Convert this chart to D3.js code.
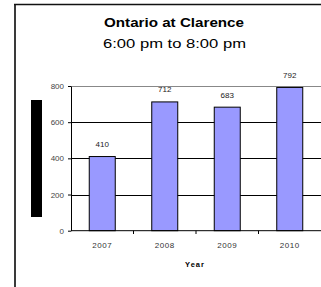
<!DOCTYPE html>
<html>
<head>
<meta charset="utf-8">
<script src="https://cdn.jsdelivr.net/npm/d3@7"></script>
<style>
  body { margin:0; background:#fff; }
  svg { display:block; font-family:"Liberation Sans", Arial, sans-serif; }
</style>
</head>
<body>
<svg id="chart" width="321" height="287"></svg>
<script>
const years = ['2007','2008','2009','2010'];
const counts = [410, 712, 683, 792];
const yTicks = [0, 200, 400, 600, 800];
const title = 'Ontario at Clarence';
const subtitle = '6:00 pm to 8:00 pm';
const xTitle = 'Year';

const svg = d3.select('#chart');

// outer chart frame (runs off the right / bottom edge)
svg.append('line').attr('x1',15).attr('x2',15).attr('y1',4).attr('y2',287)
    .attr('stroke','#3a3a3a').attr('stroke-width',2);
svg.append('line').attr('x1',14).attr('x2',321).attr('y1',4.5).attr('y2',4.5)
    .attr('stroke','#111').attr('stroke-width',1.5);

svg.append('text').attr('x',174).attr('y',27).attr('text-anchor','middle')
    .attr('font-size',12).attr('font-weight','bold')
    .attr('textLength',140).attr('lengthAdjust','spacingAndGlyphs')
    .text(title);
svg.append('text').attr('x',174.5).attr('y',47.5).attr('text-anchor','middle')
    .attr('font-size',13)
    .attr('textLength',143).attr('lengthAdjust','spacingAndGlyphs')
    .text(subtitle);

const x = d3.scaleBand().domain(years).range([71, 321])
    .paddingInner(0.584).paddingOuter(0.292);
const y = d3.scaleLinear().domain([0, 800]).range([230.7, 86]);

// gridlines
svg.append('g').selectAll('line').data(yTicks.filter(d => d > 0)).join('line')
    .attr('x1',71).attr('x2',321)
    .attr('y1',d => Math.round(y(d)) + 0.5).attr('y2',d => Math.round(y(d)) + 0.5)
    .attr('stroke',d => d === 800 ? '#888' : '#000').attr('stroke-width',1);

// bars
svg.append('g').selectAll('rect').data(counts).join('rect')
    .attr('x',(d,i) => x(years[i]))
    .attr('y',d => y(d))
    .attr('width',x.bandwidth())
    .attr('height',d => y(0) - y(d))
    .attr('fill','#9999ff').attr('stroke','#000').attr('stroke-width',1);

// value labels
svg.append('g').selectAll('text').data(counts).join('text')
    .attr('x',(d,i) => x(years[i]) + x.bandwidth()/2)
    .attr('y',d => y(d) - 9.5)
    .attr('text-anchor','middle').attr('font-size',8).attr('fill','#222')
    .text(d => d);

// y axis
const yAxis = svg.append('g').attr('transform','translate(71,0)')
    .call(d3.axisLeft(y).tickValues(yTicks).tickSize(3).tickPadding(4).tickSizeOuter(0));
yAxis.select('.domain').attr('stroke','#000');
yAxis.selectAll('text').attr('font-size',8).attr('fill','#444')
    .attr('font-family','"Liberation Sans", Arial, sans-serif');

// x axis: ticks at category boundaries
const bounds = years.slice(1).map(d => x(d) - x.step()*x.paddingInner()/2);
svg.append('line').attr('x1',71).attr('x2',321).attr('y1',230.7).attr('y2',230.7)
    .attr('stroke','#000');
svg.append('g').selectAll('line').data(bounds).join('line')
    .attr('x1',d => d).attr('x2',d => d).attr('y1',230.7).attr('y2',234)
    .attr('stroke','#000');
svg.append('g').selectAll('text').data(years).join('text')
    .attr('x',d => x(d) + x.bandwidth()/2).attr('y',247.5)
    .attr('text-anchor','middle').attr('font-size',8).attr('fill','#333')
    .attr('letter-spacing',0.6)
    .text(d => d);

svg.append('text').attr('x',195).attr('y',266.5).attr('text-anchor','middle')
    .attr('font-size',7.5).attr('font-weight','bold').attr('letter-spacing',1)
    .text(xTitle);

// masked y axis title
svg.append('rect').attr('x',31).attr('y',100).attr('width',11).attr('height',117)
    .attr('fill','#000');
</script>
</body>
</html>
